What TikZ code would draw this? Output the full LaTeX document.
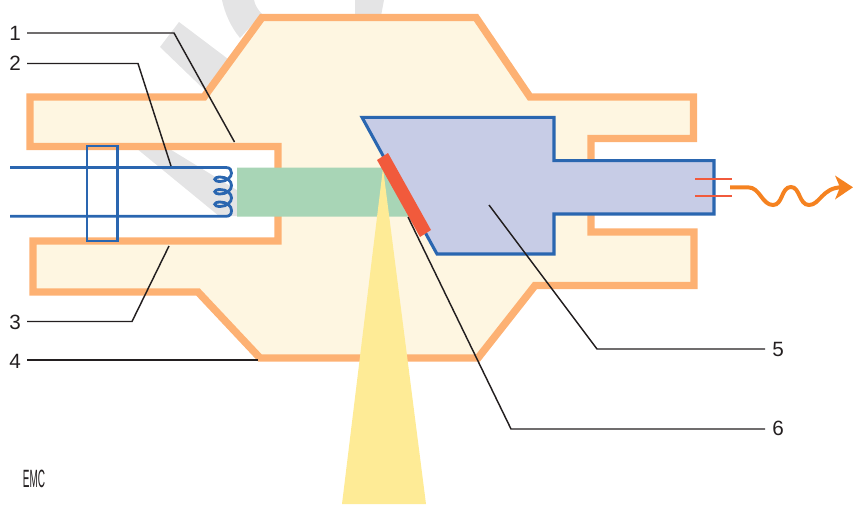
\documentclass[tikz,border=0pt]{standalone}
\usepackage{fontspec}
\setmainfont{Liberation Sans}
\definecolor{housefill}{HTML}{FEF6E1}
\definecolor{housedraw}{HTML}{FDB173}
\definecolor{wireblue}{HTML}{2A66B0}
\definecolor{beamgreen}{HTML}{A8D5B6}
\definecolor{anodefill}{HTML}{C7CCE6}
\definecolor{targetred}{HTML}{F15A3C}
\definecolor{xrayyellow}{HTML}{FEEB96}
\definecolor{waveorange}{HTML}{F58220}
\definecolor{ghostgray}{HTML}{E4E4E5}
\definecolor{leadblack}{HTML}{231F20}
\tikzset{
  numlabel/.style={inner sep=0pt,text=leadblack,font=\fontsize{15.5}{17}\selectfont},
  leadline/.style={draw=leadblack,line width=1.1pt},
  wire/.style={draw=wireblue,line width=2.1pt}
}
\begin{document}
\begin{tikzpicture}[x=0.75pt,y=-0.75pt,line join=miter]
  \useasboundingbox (0,0) rectangle (853,504);
  % 背景灰色痕迹
  \begin{scope}
    \clip (0,0) rectangle (853,504);
    \fill[ghostgray] (160,47) -- (179,22) -- (240,68) -- (215,100) -- cycle;
    \fill[ghostgray] (222,0) .. controls (225,14) and (231,27) .. (240,38) -- (262,14) .. controls (258,10) and (255,5) .. (254,0) -- cycle;
    \fill[ghostgray] (355,0) -- (355,16) -- (381,16) -- (384,0) -- cycle;
    \fill[ghostgray] (136,148) -- (168,148) -- (240,192) -- (240,216) -- (219,216) -- cycle;
  \end{scope}
  % 管壳
  \draw[fill=housefill,draw=housedraw,line width=5.6pt]
    (262,17.5) -- (476,17.5) -- (530,97) -- (693.5,97) -- (693.5,138.5) -- (591,138.5)
    -- (591,232) -- (694,232) -- (694,285.5) -- (535,285.5) -- (478,358) -- (260,358)
    -- (198,292) -- (33,292) -- (33,241) -- (278,241) -- (278,146.5) -- (30,146.5)
    -- (30,97) -- (204,97) -- cycle;
  % 电子束
  \fill[beamgreen] (237,167.5) -- (383,167.5) -- (411,216.5) -- (237,216.5) -- cycle;
  % 阳极
  \draw[fill=anodefill,draw=wireblue,line width=2.3pt]
    (362,117.3) -- (554,117.3) -- (554,160.6) -- (714,160.6) -- (714,214) -- (554,214)
    -- (554,254) -- (437,254) -- cycle;
  % X 射线束
  \fill[xrayyellow] (383,168) -- (426,504) -- (342,504) -- cycle;
  % 靶
  \fill[targetred] (377,160) -- (388,153) -- (431,230) -- (420,237) -- cycle;
  % 灯丝
  \draw[wire] (10,167.5) -- (226,167.5) .. controls (230,167.5) and (231.5,170) .. (231.5,173)
    .. controls (231.5,177) and (227,181.5) .. (220,181.5) .. controls (213,181.5) and (213,177) .. (220,177)
    .. controls (227,177) and (231.5,181) .. (231.5,185.5)
    .. controls (231.5,190) and (227,194) .. (220,194) .. controls (213,194) and (213,189.5) .. (220,189.5)
    .. controls (227,189.5) and (231.5,193.5) .. (231.5,198)
    .. controls (231.5,202) and (227,206.5) .. (220,206.5) .. controls (213,206.5) and (213,202) .. (220,202)
    .. controls (227,202) and (231.5,206) .. (231.5,210.5)
    .. controls (231.5,214) and (230,216.3) .. (226,216.3) -- (10,216.3);
  \draw[wire] (87,146) rectangle (117.5,241);
  % 输出端
  \draw[targetred,line width=1.7pt] (695,179) -- (732,179);
  \draw[targetred,line width=1.7pt] (695,195.7) -- (732,195.7);
  \draw[waveorange,line width=3pt] (730,187.3) -- (748,187.3)
    .. controls (760,187.3) and (762,205) .. (773,205)
    .. controls (783,205) and (781,187) .. (791,187)
    .. controls (800,187) and (799,205) .. (809,205)
    .. controls (820,205) and (822,187.3) .. (842,187.3);
  \fill[waveorange] (853,187.3) -- (835,175.5) -- (840,187.3) -- (835,199.5) -- cycle;
  % 标号与引线
  \node[numlabel] (lab1) at (15,33) {1};
  \node[numlabel] (lab2) at (15,63) {2};
  \node[numlabel] (lab3) at (15,322) {3};
  \node[numlabel] (lab4) at (15,361) {4};
  \node[numlabel] (lab5) at (778,349) {5};
  \node[numlabel] (lab6) at (778,428) {6};
  \coordinate (tip1) at (234.5,142);
  \coordinate (tip2) at (171,166);
  \coordinate (tip3) at (169,246);
  \coordinate (tip4) at (258,360);
  \coordinate (tip5) at (489,205);
  \coordinate (tip6) at (408,217);
  \draw[leadline] (27,33) -- (174,33) -- (tip1);
  \draw[leadline] (27,63.5) -- (138,63.5) -- (tip2);
  \draw[leadline] (27,321.5) -- (132,321.5) -- (tip3);
  \draw[leadline] (27,360) -- (tip4);
  \draw[leadline] (765,349) -- (597,349) -- (tip5);
  \draw[leadline] (765,429) -- (511,429) -- (tip6);
  % 标志
  \node[inner sep=0pt,text=leadblack,xscale=.5,yscale=1.25,font=\fontsize{15}{16}\selectfont] (logo) at (34,479) {EMC};
\end{tikzpicture}
\end{document}
